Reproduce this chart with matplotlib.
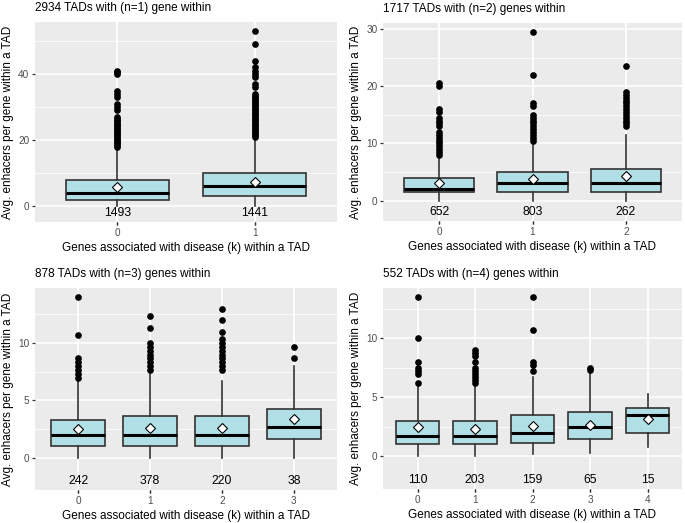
import numpy as np
import matplotlib.pyplot as plt

plt.rcParams['font.family'] = ['Liberation Sans', 'DejaVu Sans']

##################################################################
# box statistics, one list per panel

titles = ['2934 TADs with (n=1) gene within',
          '1717 TADs with (n=2) genes within',
          '878 TADs with (n=3) genes within',
          '552 TADs with (n=4) genes within']

counts = [[1493, 1441],
          [652, 803, 262],
          [242, 378, 220, 38],
          [110, 203, 159, 65, 15]]

q1 = [[2, 3],
      [1.5, 1.5, 1.5],
      [1, 1, 1, 1.67],
      [1, 1, 1.12, 1.5, 2]]
med = [[4, 6],
       [2, 3, 3],
       [2, 2, 2, 2.67],
       [1.75, 1.75, 2, 2.5, 3.5]]
q3 = [[8, 10],
      [4, 5, 5.5],
      [3.33, 3.67, 3.67, 4.25],
      [3, 3, 3.5, 3.75, 4.12]]
whislo = [[0, 0],
          [0, 0, 0],
          [0, 0, 0, 0],
          [0, 0, 0.2, 0.25, 0.75]]
whishi = [[17, 20],
          [7.5, 10, 11.5],
          [6.67, 7.33, 6.67, 8],
          [6, 6, 6.75, 7.2, 5.25]]
means = [[5.7, 7.3],
         [3.0, 3.8, 4.25],
         [2.52, 2.62, 2.62, 3.35],
         [2.45, 2.3, 2.6, 2.68, 3.15]]

outliers = [
    [[18, 18.5, 19, 19.5, 20, 20.5, 21, 21.5, 22, 22.5, 23, 23.5, 24, 24.5,
      25, 25.5, 26, 26.5, 27, 29, 30, 31, 33, 34, 35, 40, 40.5, 41],
     [21, 21.5, 22, 22.5, 23, 23.5, 24, 24.5, 25, 25.5, 26, 26.5, 27, 27.5,
      28, 28.5, 29, 29.5, 30, 30.5, 31, 31.5, 32, 32.5, 33, 33.5, 34,
      36, 37, 39, 40, 41, 42, 44, 49, 53]],
    [[8, 8.5, 9, 9.5, 10, 10.5, 11, 11.5, 12, 13, 13.5, 14, 14.5, 15.5, 16,
      20, 20.5],
     [10.5, 11, 11.5, 12, 12.5, 13, 13.5, 14, 14.5, 15, 16.5, 17, 22, 29.5],
     [13, 13.5, 14, 14.5, 15, 15.5, 16, 16.5, 17, 17.5, 18, 18.5, 19, 23.5]],
    [[7, 7.33, 7.67, 8, 8.33, 8.67, 10.67, 14],
     [7.67, 8, 8.33, 8.67, 9, 9.33, 9.67, 10, 11.33, 12.33],
     [7.67, 8, 8.33, 8.67, 9, 9.33, 9.67, 10, 10.33, 11, 12, 13],
     [8.67, 9.67]],
    [[6.25, 7, 7.25, 7.5, 8, 10, 13.5],
     [6.25, 6.5, 6.75, 7, 7.25, 7.5, 8, 8.5, 8.75, 9],
     [7.25, 7.75, 8, 10.75, 13.5],
     [7.33, 7.5],
     []],
]

major_step = [20, 10, 5, 5]
label_y = -2

# panel boxes in pixels: left, top, right, bottom
panels_px = [(35, 22, 337, 222),
             (383, 23, 682, 221),
             (35, 288, 337, 490),
             (383, 288, 682, 489)]

W, H = 685, 523
BOX_FILL = '#B0E0E6'
EDGE = '#333333'

fig = plt.figure(figsize=(W / 100, H / 100), dpi=100)

for p in range(4):
    l, t, r, b = panels_px[p]
    ax = fig.add_axes([l / W, 1 - b / H, (r - l) / W, (b - t) / H])
    ax.set_facecolor('#EBEBEB')
    for s in ax.spines.values():
        s.set_visible(False)

    nbox = len(counts[p])
    xs = np.arange(nbox)
    stats = []
    for i in range(nbox):
        stats.append(dict(q1=q1[p][i], med=med[p][i], q3=q3[p][i],
                          whislo=whislo[p][i], whishi=whishi[p][i],
                          fliers=outliers[p][i], mean=means[p][i]))

    # y range like ggplot: data span (incl. count labels) + 5%
    ymax = max(max(o) if o else 0 for o in outliers[p])
    ymax = max(ymax, max(whishi[p]))
    ymin = label_y
    pad = 0.05 * (ymax - ymin)
    ax.set_ylim(ymin - pad, ymax + pad)
    ax.set_xlim(-0.6, nbox - 1 + 0.6)

    step = major_step[p]
    major = np.arange(0, ymax + step, step)
    major = major[major <= ymax + pad]
    minor = np.arange(step / 2, ymax + pad, step)
    ax.set_yticks(major)
    ax.set_yticks(minor, minor=True)
    ax.set_yticklabels(['%g' % v for v in major])
    ax.set_xticks(xs)
    ax.set_xticklabels([str(v) for v in xs])

    ax.grid(True, which='major', color='white', lw=1.1, zorder=0)
    ax.grid(True, which='minor', axis='y', color='white', lw=0.55, zorder=0)
    ax.set_axisbelow(True)
    ax.tick_params(axis='both', which='major', length=2.5, width=0.9,
                   color='#333333', labelcolor='#4D4D4D', labelsize=7.2, pad=1.5)
    ax.tick_params(axis='y', which='minor', length=0)

    ax.bxp(stats, positions=xs, widths=0.75, patch_artist=True,
           showmeans=True, showcaps=False,
           boxprops=dict(facecolor=BOX_FILL, edgecolor=EDGE, lw=1.2),
           medianprops=dict(color='black', lw=2.2),
           whiskerprops=dict(color=EDGE, lw=1.2),
           flierprops=dict(marker='o', markerfacecolor='black',
                           markeredgecolor='black', markersize=3.8),
           meanprops=dict(marker='D', markerfacecolor='white',
                          markeredgecolor='black', markersize=5.2,
                          markeredgewidth=0.8),
           zorder=3)

    for i in range(nbox):
        ax.text(xs[i], label_y, str(counts[p][i]), ha='center', va='center',
                fontsize=8.8, color='black', zorder=4)

    ax.set_ylabel('Avg. enhacers per gene within a TAD', fontsize=8.5,
                  labelpad=3)
    ax.set_xlabel('Genes associated with disease (k) within a TAD',
                  fontsize=8.5, labelpad=3)
    ax.set_title(titles[p], loc='left', fontsize=8.5, pad=8)

fig.savefig('out.png', dpi=100, facecolor='white')
